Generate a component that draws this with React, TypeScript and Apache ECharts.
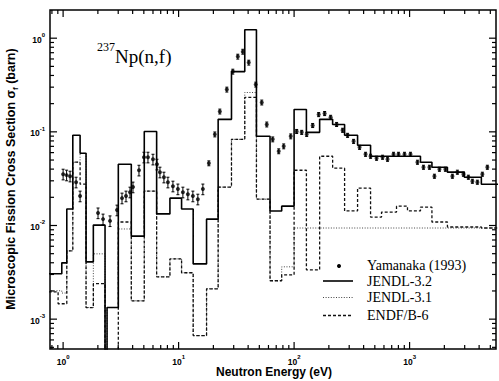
import React, { useEffect, useRef } from "react";
import * as echarts from "echarts";

const X_MIN = 0.77;
const X_MAX = 5600;
const Y_MIN = 4.8e-4;
const Y_MAX = 2.0;

// group boundaries (eV)
const binEdges = [0.75, 0.905, 0.974, 1.076, 1.213, 1.403, 1.58, 1.827, 2.307, 2.401, 3.006, 3.894, 5.044, 6.454, 8.41, 10.61, 13.37, 17.46, 22.0, 28.7, 37.4, 47.2, 61.9, 78.1, 100, 127.8, 166.4, 215.6, 273.7, 354.5, 459.3, 571.6, 670.6, 770.6, 959, 1242, 1561, 2126, 2983, 4182, 6000];

// group-averaged fission cross sections (barn)
const jendl32 = [3.05e-3, 3.05e-3, 3.99e-3, 0.015, 0.0918, 0.059, 4.09e-3, 0.0101, 3e-4, 1.33e-3, 0.0451, 7.7e-3, 0.101, 0.0133, 0.0196, 0.015, 3.89e-3, 0.0117, 0.136, 0.44, 1.23, 0.0896, 0.0143, 0.0161, 0.173, 0.0988, 0.136, 0.12, 0.0918, 0.0718, 0.0549, 0.0549, 0.0549, 0.0549, 0.0549, 0.0474, 0.0419, 0.0371, 0.0328, 0.0276];
const jendl31 = [2.01e-3, 2.01e-3, 1.9e-3, 5.36e-3, 0.0474, 0.059, 1.33e-3, 4.98e-3, 3e-4, 1.33e-3, 9.18e-3, 1.57e-3, 0.0233, 2.83e-3, 4.4e-3, 3.13e-3, 6.67e-4, 2.11e-3, 0.0257, 0.0832, 0.263, 0.0191, 2.57e-3, 3.62e-3, 9.4e-3, 9.4e-3, 9.4e-3, 9.4e-3, 9.4e-3, 9.4e-3, 9.4e-3, 9.4e-3, 9.4e-3, 9.4e-3, 9.4e-3, 9.4e-3, 9.4e-3, 9.4e-3, 9.4e-3, 9.4e-3];
const endfb6 = [1.96e-3, 1.46e-3, 1.46e-3, 5.36e-3, 0.0474, 0.0276, 1.33e-3, 2.39e-3, 3e-4, 3e-4, 0.0109, 1.57e-3, 0.0233, 2.83e-3, 4.4e-3, 3.13e-3, 6.67e-4, 2.11e-3, 0.0257, 0.0832, 0.233, 0.0191, 2.57e-3, 2.97e-3, 0.0389, 3.36e-3, 0.0549, 0.0409, 0.0143, 0.0251, 0.0123, 0.0139, 0.0139, 0.0161, 0.0143, 0.0157, 0.0109, 9.64e-3, 9.64e-3, 9.4e-3];

// Yamanaka (1993) measurement
const yamE = [1.0, 1.072, 1.149, 1.295, 1.403, 2.006, 2.217, 2.548, 2.929, 3.236, 3.504, 3.794, 4.027, 4.539, 5.013, 5.429, 5.998, 6.494, 6.893, 7.463, 8.08, 8.93, 9.86, 10.89, 12.03, 13.29, 14.68, 16.22, 18.28, 20.59, 22.75, 26.16, 29.47, 32.54, 35.96, 40.51, 46.58, 52.48, 57.98, 65.31, 73.6, 81.3, 93.5, 105.3, 116.4, 128.5, 144.8, 163.2, 183.9, 207.2, 233.4, 263.1, 290.5, 327.4, 368.9, 415.6, 459.3, 517.6, 583.3, 644.2, 725.9, 801.9, 903.6, 1018, 1170, 1319, 1486, 1641, 1813, 2043, 2348, 2594, 2924, 3229, 3498, 3864, 4267, 4713];
const yamSigma = [0.0353, 0.0345, 0.0336, 0.029, 0.0206, 0.0136, 0.0117, 0.0112, 0.0146, 0.0196, 0.0206, 0.0227, 0.0257, 0.0389, 0.0536, 0.0536, 0.051, 0.0451, 0.0371, 0.0328, 0.029, 0.0263, 0.0245, 0.0227, 0.0216, 0.0206, 0.0191, 0.0245, 0.0462, 0.094, 0.165, 0.283, 0.44, 0.636, 0.718, 0.549, 0.32, 0.206, 0.12, 0.0832, 0.0621, 0.0701, 0.0896, 0.101, 0.0988, 0.094, 0.117, 0.153, 0.157, 0.143, 0.12, 0.104, 0.0918, 0.0792, 0.0684, 0.0576, 0.0549, 0.0523, 0.0536, 0.051, 0.0576, 0.0576, 0.0576, 0.0576, 0.0474, 0.0419, 0.0419, 0.0336, 0.0399, 0.0399, 0.0336, 0.0371, 0.0353, 0.0328, 0.0297, 0.029, 0.0353, 0.0419];
const yamErrPct = [13, 13, 13, 13, 13, 13, 13, 13, 13, 13, 13, 13, 13, 13, 13, 13, 13, 13, 13, 13, 13, 13, 13, 13, 13, 13, 13, 13, 6, 6, 6, 6, 6, 6, 6, 6, 6, 6, 6, 6, 6, 6, 6, 5, 5, 5, 5, 5, 5, 5, 5, 5, 5, 5, 5, 5, 5, 5, 5, 5, 5, 5, 5, 5, 5, 5, 5, 5, 5, 5, 5, 5, 5, 5, 5, 5, 5, 5];

const xDecades = [-1, 0, 1, 2, 3];
const yDecades = [-4, -3, -2, -1, 0];
const minorMultipliers = [2, 3, 4, 5, 6, 7, 8, 9];

const SANS = "Liberation Sans";
const SERIF = "Liberation Serif";

function stepData(vals: number[]) {
  const d: number[][] = vals.map((v, i) => [binEdges[i], v]);
  d.push([binEdges[binEdges.length - 1], vals[vals.length - 1]]);
  return d;
}

function powLabel(v: number) {
  const l = Math.log10(v);
  const n = Math.round(l);
  if (Math.abs(l - n) > 1e-6) return "";
  return `{b|10}{s|${n}}`;
}

const labelRich = {
  b: { fontSize: 8.5, fontWeight: "bold", fontFamily: SANS, color: "#000", lineHeight: 12, verticalAlign: "bottom" },
  s: { fontSize: 6, fontWeight: "bold", fontFamily: SANS, color: "#000", lineHeight: 8, verticalAlign: "top" },
};

export default function App() {
  const ref = useRef<HTMLDivElement>(null);
  useEffect(() => {
    if (!ref.current) return;
    const chart = echarts.init(ref.current, undefined, { renderer: "svg" });

    const xTicks: number[][] = [];
    xDecades.forEach((d) => {
      const p = Math.pow(10, d);
      if (p > X_MIN && p < X_MAX) xTicks.push([p, Y_MIN, 1]);
      minorMultipliers.forEach((m) => {
        const v = m * p;
        if (v > X_MIN && v < X_MAX) xTicks.push([v, Y_MIN, 0]);
      });
    });
    const yTicks: number[][] = [];
    yDecades.forEach((d) => {
      const p = Math.pow(10, d);
      if (p > Y_MIN && p < Y_MAX) yTicks.push([X_MIN, p, 1]);
      minorMultipliers.forEach((m) => {
        const v = m * p;
        if (v > Y_MIN && v < Y_MAX) yTicks.push([X_MIN, v, 0]);
      });
    });

    const tickStyle = { stroke: "#000", lineWidth: 1.2 };

    const option: any = {
      animation: false,
      backgroundColor: "#fff",
      grid: { left: 50, right: 2, top: 10, bottom: 32, show: true, borderColor: "#000", borderWidth: 1.5, backgroundColor: "transparent" },
      xAxis: {
        type: "log",
        logBase: 10,
        min: X_MIN,
        max: X_MAX,
        axisLine: { show: false },
        axisTick: { show: false },
        splitLine: { show: false },
        axisLabel: { margin: 5, formatter: powLabel, rich: labelRich },
      },
      yAxis: {
        type: "log",
        logBase: 10,
        min: Y_MIN,
        max: Y_MAX,
        axisLine: { show: false },
        axisTick: { show: false },
        splitLine: { show: false },
        axisLabel: { margin: 5, formatter: powLabel, rich: labelRich },
      },
      series: [
        {
          name: "JENDL-3.1",
          type: "line",
          step: "end",
          data: stepData(jendl31),
          symbol: "none",
          lineStyle: { color: "#444", width: 1, type: [1, 1.6] },
          z: 2,
        },
        {
          name: "ENDF/B-6",
          type: "line",
          step: "end",
          data: stepData(endfb6),
          symbol: "none",
          lineStyle: { color: "#111", width: 1.3, type: [3, 2] },
          z: 3,
        },
        {
          name: "JENDL-3.2",
          type: "line",
          step: "end",
          data: stepData(jendl32),
          symbol: "none",
          lineStyle: { color: "#000", width: 1.6 },
          z: 4,
        },
        {
          name: "err",
          type: "custom",
          data: yamE.map((e, i) => [e, yamSigma[i] * (1 - yamErrPct[i] / 100), yamSigma[i] * (1 + yamErrPct[i] / 100)]),
          encode: { x: 0, y: [1, 2] },
          renderItem: (params: any, api: any) => {
            const lo = api.coord([api.value(0), api.value(1)]);
            const hi = api.coord([api.value(0), api.value(2)]);
            const st = { stroke: "#000", lineWidth: 1 };
            return {
              type: "group",
              children: [
                { type: "line", shape: { x1: lo[0], y1: lo[1], x2: hi[0], y2: hi[1] }, style: st },
                { type: "line", shape: { x1: lo[0] - 1.5, y1: lo[1], x2: lo[0] + 1.5, y2: lo[1] }, style: st },
                { type: "line", shape: { x1: hi[0] - 1.5, y1: hi[1], x2: hi[0] + 1.5, y2: hi[1] }, style: st },
              ],
            };
          },
          z: 5,
        },
        {
          name: "Yamanaka (1993)",
          type: "scatter",
          data: yamE.map((e, i) => [e, yamSigma[i]]),
          symbol: "circle",
          symbolSize: 4,
          itemStyle: { color: "#000" },
          z: 6,
        },
        {
          name: "xticks",
          type: "custom",
          clip: false,
          data: xTicks,
          encode: { x: 0, y: 1 },
          renderItem: (params: any, api: any) => {
            const v = api.value(0);
            const len = api.value(2) ? 7 : 4;
            const b = api.coord([v, Y_MIN]);
            const t = api.coord([v, Y_MAX]);
            return {
              type: "group",
              children: [
                { type: "line", shape: { x1: b[0], y1: b[1], x2: b[0], y2: b[1] - len }, style: tickStyle },
                { type: "line", shape: { x1: t[0], y1: t[1], x2: t[0], y2: t[1] + len }, style: tickStyle },
              ],
            };
          },
          z: 7,
        },
        {
          name: "yticks",
          type: "custom",
          clip: false,
          data: yTicks,
          encode: { x: 0, y: 1 },
          renderItem: (params: any, api: any) => {
            const v = api.value(1);
            const len = api.value(2) ? 7 : 4;
            const l = api.coord([X_MIN, v]);
            const r = api.coord([X_MAX, v]);
            return {
              type: "group",
              children: [
                { type: "line", shape: { x1: l[0], y1: l[1], x2: l[0] + len, y2: l[1] }, style: tickStyle },
                { type: "line", shape: { x1: r[0], y1: r[1], x2: r[0] - len, y2: r[1] }, style: tickStyle },
              ],
            };
          },
          z: 7,
        },
      ],
      graphic: [
        {
          type: "text",
          x: 97,
          y: 47,
          style: { text: "237", font: `12px '${SERIF}'`, fill: "#000", align: "left", verticalAlign: "middle", textAlign: "left", textVerticalAlign: "middle" },
        },
        {
          type: "text",
          x: 115,
          y: 56,
          style: { text: "Np(n,f)", font: `19px '${SERIF}'`, fill: "#000", align: "left", verticalAlign: "middle", textAlign: "left", textVerticalAlign: "middle" },
        },
        {
          type: "text",
          x: 274,
          y: 372,
          style: { text: "Neutron Energy (eV)", font: `bold 12px '${SANS}'`, fill: "#000", align: "center", verticalAlign: "middle", textAlign: "center", textVerticalAlign: "middle" },
        },
        {
          type: "text",
          x: 11,
          y: 179,
          rotation: Math.PI / 2,
          style: {
            text: "{a|Microscopic Fission Cross Section σ}{sub|f}{a| (barn)}",
            rich: {
              a: { fontSize: 12.5, fontWeight: "bold", fontFamily: SANS, fill: "#000", color: "#000", lineHeight: 16 },
              sub: { fontSize: 8, fontWeight: "bold", fontFamily: SANS, fill: "#000", color: "#000", lineHeight: 10, verticalAlign: "bottom" },
            },
            align: "center",
            verticalAlign: "middle",
            textAlign: "center",
            textVerticalAlign: "middle",
          },
        },
        // legend
        { type: "circle", shape: { cx: 339, cy: 266, r: 2 }, style: { fill: "#000" } },
        { type: "line", shape: { x1: 323, y1: 281, x2: 353, y2: 281 }, style: { stroke: "#000", lineWidth: 1.6 } },
        { type: "line", shape: { x1: 323, y1: 297.5, x2: 353, y2: 297.5 }, style: { stroke: "#444", lineWidth: 1, lineDash: [1, 1.6] } },
        { type: "line", shape: { x1: 323, y1: 315.5, x2: 353, y2: 315.5 }, style: { stroke: "#111", lineWidth: 1.3, lineDash: [3, 2] } },
        ...["Yamanaka (1993)", "JENDL-3.2", "JENDL-3.1", "ENDF/B-6"].map((t, i) => ({
          type: "text",
          x: 367,
          y: [265, 281, 297.5, 315.5][i],
          style: { text: t, font: `14px '${SERIF}'`, fill: "#000", align: "left", verticalAlign: "middle", textAlign: "left", textVerticalAlign: "middle" },
        })),
      ],
    };
    chart.setOption(option);
    return () => chart.dispose();
  }, []);
  return <div ref={ref} style={{ position: "absolute", left: 0, top: 0, width: 499, height: 381 }} />;
}
